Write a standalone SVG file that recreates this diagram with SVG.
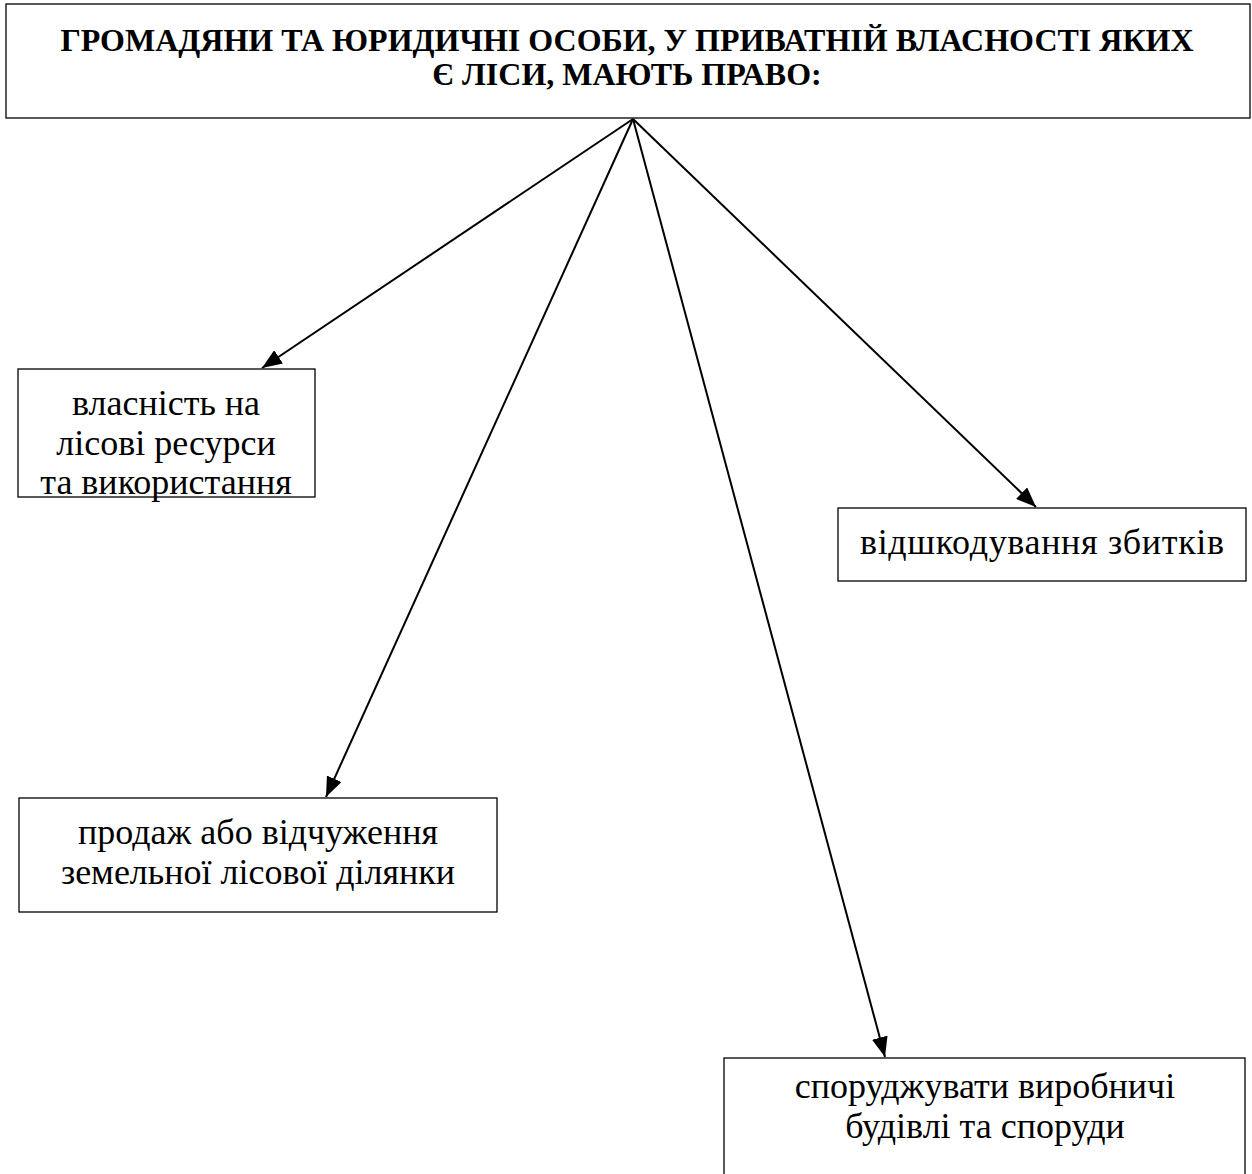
<svg xmlns="http://www.w3.org/2000/svg" width="1252" height="1174" viewBox="0 0 1252 1174">
<style>
.box{fill:#fff;stroke:#000;stroke-width:1.3}
.t{font-family:"Liberation Serif","Times New Roman",serif;font-size:36px;text-anchor:middle;fill:#000}
.h{font-family:"Liberation Serif","Times New Roman",serif;font-size:32px;font-weight:bold;text-anchor:middle;fill:#000}
.c{stroke:#000;stroke-width:2;fill:none;marker-end:url(#ah)}
</style>
<defs>
<marker id="ah" viewBox="0 0 20 16" refX="20" refY="8" markerWidth="20" markerHeight="16" markerUnits="userSpaceOnUse" orient="auto">
<path d="M0,0 L20,8 L0,16 z" fill="#000"/>
</marker>
</defs>
<g id="top">
<rect class="box" x="6" y="4" width="1244" height="114"/>
<text class="h" x="627" y="51">ГРОМАДЯНИ ТА ЮРИДИЧНІ ОСОБИ, У ПРИВАТНІЙ ВЛАСНОСТІ ЯКИХ</text>
<text class="h" x="627" y="85">Є ЛІСИ, МАЮТЬ ПРАВО:</text>
</g>
<g id="n1">
<rect class="box" x="18" y="369" width="297" height="128"/>
<text class="t" x="166" y="415">власність на</text>
<text class="t" x="166" y="455">лісові ресурси</text>
<text class="t" x="166" y="494">та використання</text>
</g>
<g id="n2">
<rect class="box" x="838" y="508" width="408" height="73"/>
<text class="t" x="1042" y="554" textLength="364" lengthAdjust="spacing">відшкодування збитків</text>
</g>
<g id="n3">
<rect class="box" x="19" y="798" width="478" height="114"/>
<text class="t" x="258" y="844">продаж або відчуження</text>
<text class="t" x="258" y="884">земельної лісової ділянки</text>
</g>
<g id="n4">
<rect class="box" x="724" y="1058" width="521" height="120"/>
<text class="t" x="985" y="1098">споруджувати виробничі</text>
<text class="t" x="985" y="1138">будівлі та споруди</text>
</g>
<g id="connectors">
<line class="c" x1="633" y1="119" x2="262" y2="368"/>
<line class="c" x1="633" y1="119" x2="326" y2="797"/>
<line class="c" x1="633" y1="119" x2="885" y2="1057"/>
<line class="c" x1="633" y1="119" x2="1036" y2="507"/>
</g>
</svg>
